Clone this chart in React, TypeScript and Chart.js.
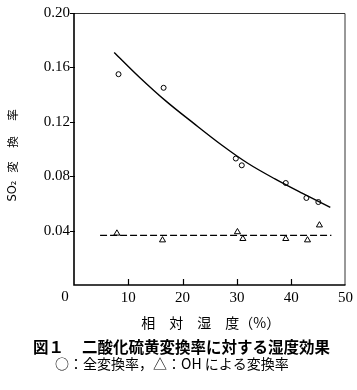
import React, { useEffect, useRef } from 'react';
import { Chart, registerables } from 'chart.js';

Chart.register(...registerables);

// ---- data ----
const totalX = [8.2, 16.5, 29.8, 30.9, 39.0, 42.8, 45.0];
const totalY = [0.155, 0.145, 0.093, 0.088, 0.075, 0.064, 0.061];
const ohX = [7.9, 16.3, 30.1, 31.1, 39.0, 43.0, 45.2];
const ohY = [0.038, 0.033, 0.039, 0.034, 0.034, 0.033, 0.044];
const fitX = [7.4, 12, 17, 22, 27, 32, 37, 42, 47.2];
const fitY = [0.171, 0.153, 0.135, 0.119, 0.1035, 0.0895, 0.078, 0.0675, 0.057];
const ohFitX = [4.8, 47.4];
const ohFitY = [0.0365, 0.0365];

const xTicks = [0, 10, 20, 30, 40, 50];
const yTicks = [0.04, 0.08, 0.12, 0.16, 0.2];
const xTitle = '相　対　湿　度（%）';
const yTitleParts = ['SO₂', '変', '換', '率'];
const captionFig = '図１';
const captionMain = '二酸化硫黄変換率に対する湿度効果';
const captionLegend = '○：全変換率，△：OH による変換率';

const SERIF = "'Liberation Serif', 'DejaVu Serif', serif";
const JP = "'Noto Sans CJK JP', 'Noto Sans', sans-serif";

const pts = (xs: number[], ys: number[]) => xs.map((x, i) => ({ x, y: ys[i] }));

const decor = {
  id: 'decor',
  afterDraw(chart: any) {
    const { ctx, chartArea: a, scales } = chart;
    const xs = scales.x;
    const ys = scales.y;
    ctx.save();
    // frame: top & right thin
    ctx.strokeStyle = '#333';
    ctx.lineWidth = 1;
    ctx.beginPath();
    ctx.moveTo(a.left, a.top + 0.5);
    ctx.lineTo(a.right - 0.5, a.top + 0.5);
    ctx.lineTo(a.right - 0.5, a.bottom);
    ctx.stroke();
    // left & bottom axes
    ctx.strokeStyle = '#000';
    ctx.lineWidth = 1.6;
    ctx.beginPath();
    ctx.moveTo(a.left, a.top);
    ctx.lineTo(a.left, a.bottom);
    ctx.lineTo(a.right, a.bottom);
    ctx.stroke();
    // ticks
    ctx.lineWidth = 1.2;
    ctx.beginPath();
    xTicks.forEach((v) => {
      if (v === 0 || v === 50) return;
      const px = Math.round(xs.getPixelForValue(v)) + 0.5;
      ctx.moveTo(px, a.bottom);
      ctx.lineTo(px, a.bottom - 6);
    });
    yTicks.forEach((v) => {
      const py = Math.round(ys.getPixelForValue(v)) + 0.5;
      ctx.moveTo(a.left - 4, py);
      ctx.lineTo(a.left + 1, py);
    });
    ctx.stroke();

    ctx.fillStyle = '#000';
    // corner "0"
    ctx.font = `15px ${SERIF}`;
    ctx.textAlign = 'center';
    ctx.textBaseline = 'middle';
    ctx.fillText('0', a.left - 9, a.bottom + 12);

    // y title (rotated, reading bottom to top)
    const yCenters = [191, 167, 142, 115];
    yTitleParts.forEach((t, i) => {
      ctx.save();
      ctx.translate(13, yCenters[i]);
      ctx.rotate(-Math.PI / 2);
      ctx.font = i === 0 ? `11.5px 'DejaVu Sans', ${JP}` : `11.5px ${JP}`;
      ctx.textAlign = 'center';
      ctx.textBaseline = 'middle';
      ctx.fillText(t, 0, 0);
      ctx.restore();
    });

    // x title
    ctx.font = `14px ${JP}`;
    ctx.textAlign = 'center';
    ctx.fillText(xTitle, (a.left + a.right) / 2 + 1, 323);

    // captions
    ctx.textAlign = 'left';
    ctx.font = `bold 15.5px ${JP}`;
    ctx.fillText(captionFig, 33, 347);
    ctx.fillText(captionMain, 82, 347);
    ctx.font = `14px ${JP}`;
    ctx.fillText(captionLegend, 55, 364);
    ctx.restore();
  },
};

export default function App() {
  const ref = useRef<HTMLCanvasElement>(null);
  useEffect(() => {
    if (!ref.current) return;
    const chart = new Chart(ref.current, {
      type: 'scatter',
      data: {
        datasets: [
          {
            label: 'fit',
            type: 'line',
            data: pts(fitX, fitY),
            borderColor: '#000',
            borderWidth: 1.4,
            pointRadius: 0,
            cubicInterpolationMode: 'monotone',
            fill: false,
          },
          {
            label: 'ohfit',
            type: 'line',
            data: pts(ohFitX, ohFitY),
            borderColor: '#000',
            borderWidth: 1.2,
            borderDash: [7, 3],
            pointRadius: 0,
            fill: false,
          },
          {
            label: '全変換率',
            data: pts(totalX, totalY),
            pointStyle: 'circle',
            pointRadius: 2.5,
            borderColor: '#000',
            borderWidth: 1,
            backgroundColor: '#fff',
          },
          {
            label: 'OH',
            data: pts(ohX, ohY),
            pointStyle: 'triangle',
            pointRadius: 3.5,
            borderColor: '#000',
            borderWidth: 1,
            backgroundColor: '#fff',
          },
        ],
      } as any,
      options: {
        animation: false,
        responsive: false,
        devicePixelRatio: 1,
        layout: { padding: { left: 0, right: 8, top: 10, bottom: 55 } },
        plugins: { legend: { display: false }, tooltip: { enabled: false } },
        scales: {
          x: {
            type: 'linear',
            min: 0,
            max: 50,
            afterFit: (s: any) => { s.height = 50; },
            afterBuildTicks: (s: any) => { s.ticks = xTicks.map((v) => ({ value: v })); },
            grid: { display: false, drawTicks: false },
            border: { display: false },
            ticks: {
              padding: 4,
              color: '#000',
              font: { family: SERIF, size: 15 },
              maxRotation: 0,
              callback: (v: any) => (v === 0 ? '' : String(v)),
            },
          },
          y: {
            type: 'linear',
            min: 0,
            max: 0.2,
            afterFit: (s: any) => { s.width = 74; },
            afterBuildTicks: (s: any) => { s.ticks = yTicks.map((v) => ({ value: v })); },
            grid: { display: false, drawTicks: false },
            border: { display: false },
            ticks: {
              padding: 4,
              color: '#000',
              font: { family: SERIF, size: 15 },
              callback: (v: any) => Number(v).toFixed(2),
            },
          },
        },
      } as any,
      plugins: [decor],
    });
    return () => chart.destroy();
  }, []);
  return (
    <div style={{ position: 'fixed', left: 0, top: 0, width: 357, height: 390, background: '#fff' }}>
      <canvas ref={ref} width={357} height={390} style={{ width: 357, height: 390, display: 'block' }} />
    </div>
  );
}
